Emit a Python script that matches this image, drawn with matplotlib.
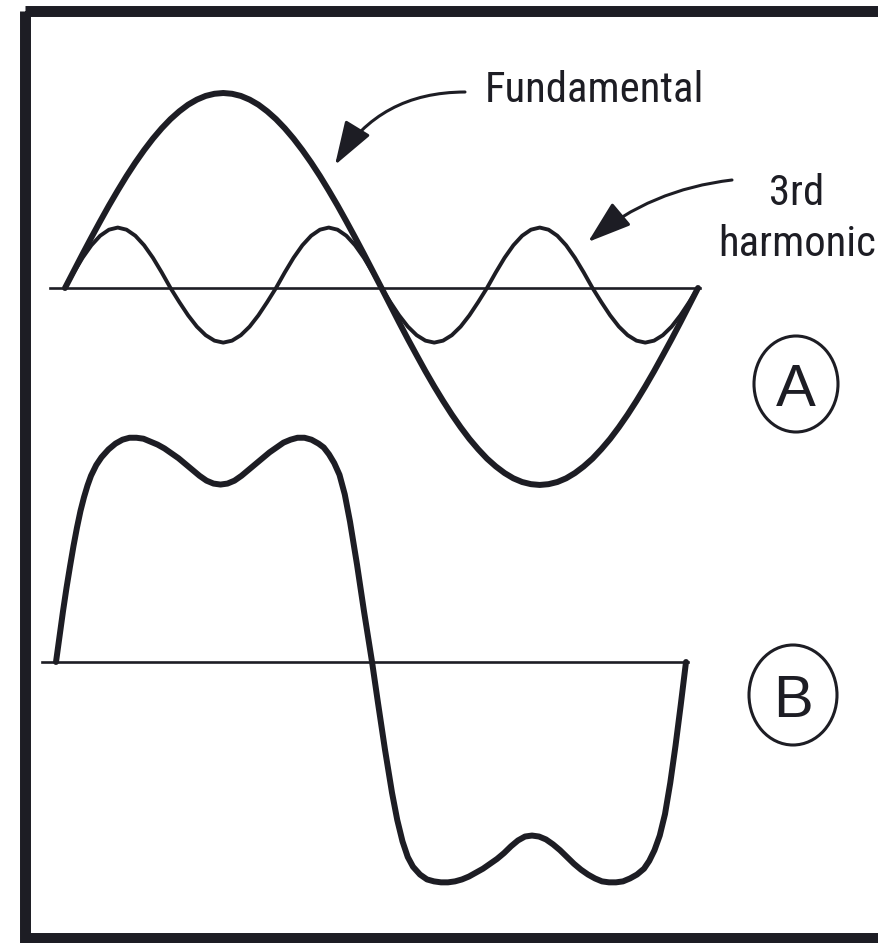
import numpy as np
import matplotlib
matplotlib.use('Agg')
import matplotlib.pyplot as plt
from matplotlib.patches import Ellipse, Rectangle
from matplotlib import font_manager

# --- Data (x in degrees of the fundamental, y in fundamental amplitudes) ---
deg_a = np.arange(0, 361, 5)

fundamental = [
    0, .087, .174, .259, .342, .423, .500, .574, .643, .707, .766, .819, .866, .906, .940, .966, .985, .996, 1.0,
    .996, .985, .966, .940, .906, .866, .819, .766, .707, .643, .574, .500, .423, .342, .259, .174, .087, 0,
    -.088, -.176, -.262, -.345, -.427, -.505, -.579, -.649, -.714, -.774, -.827, -.875, -.915, -.949, -.976, -.995, -1.006, -1.01,
    -1.006, -.995, -.976, -.949, -.915, -.875, -.827, -.774, -.714, -.649, -.579, -.505, -.427, -.345, -.262, -.176, -.088, 0,
]

third_harmonic = [
    0, .080, .155, .219, .268, .299, .31, .299, .268, .219, .155, .080, 0,
    -.072, -.14, -.198, -.242, -.27, -.28, -.27, -.242, -.198, -.14, -.072, 0,
    .080, .155, .219, .268, .299, .31, .299, .268, .219, .155, .080, 0,
    -.072, -.14, -.198, -.242, -.27, -.28, -.27, -.242, -.198, -.14, -.072, 0,
    .080, .155, .219, .268, .299, .31, .299, .268, .219, .155, .080, 0,
    -.072, -.14, -.198, -.242, -.27, -.28, -.27, -.242, -.198, -.14, -.072, 0,
]

deg_b = [0, 2, 4, 6, 8, 10, 12, 14, 16, 18, 20, 23, 26, 30, 34, 38, 42, 46, 50, 54, 58,
         62, 66, 70, 74, 78, 82, 86, 90, 94, 98, 102, 106, 110, 114, 118, 122, 126, 130,
         134, 138, 142, 146, 150, 153, 156, 159, 162, 165, 168, 172, 176, 180.6,
         184, 188, 192, 195, 198, 201, 204, 208, 212, 216, 220, 224, 228, 232, 236, 240,
         244, 248, 252, 256, 260, 264, 268, 272, 276, 280, 284, 288, 292, 296, 300, 304,
         308, 312, 316, 320, 324, 328, 332, 336, 339, 342, 345, 348, 351, 354, 357, 360]
resultant = [0, .13, .26, .38, .49, .595, .69, .775, .845, .905, .955, 1.01, 1.05, 1.09, 1.12, 1.14,
             1.15, 1.15, 1.145, 1.13, 1.115, 1.095, 1.07, 1.045, 1.015, .985, .955, .93, .915,
             .91, .915, .93, .955, .985, 1.015, 1.045, 1.075, 1.10, 1.125, 1.14, 1.15, 1.15,
             1.14, 1.12, 1.10, 1.065, 1.02, .96, .86, .72, .50, .26, 0,
             -.21, -.45, -.67, -.81, -.92, -1.00, -1.05, -1.09, -1.115, -1.125, -1.13, -1.13,
             -1.125, -1.115, -1.10, -1.08, -1.06, -1.035, -1.01, -.98, -.945, -.915, -.895,
             -.89, -.895, -.91, -.935, -.965, -1.00, -1.035, -1.065, -1.09, -1.11, -1.125,
             -1.13, -1.13, -1.125, -1.11, -1.09, -1.06, -1.02, -.965, -.89, -.78, -.62, -.43,
             -.22, 0]

# --- Layout (image pixels) ---
W, H = 879, 943
INK = '#1d1d24'

names = {f.name for f in font_manager.fontManager.ttflist}
LABEL_FONT = 'Liberation Sans'
for cand in ['Liberation Sans Narrow', 'Roboto Condensed', 'Open Sans Condensed']:
    if cand in names:
        LABEL_FONT = cand
        break

fig = plt.figure(figsize=(W / 100, H / 100), dpi=100)

deco = fig.add_axes([0, 0, 1, 1])
deco.set_xlim(0, W)
deco.set_ylim(H, 0)
deco.axis('off')


def wave_axes(x0_px, x360_px, base_px, unit_px):
    """Full-figure axes where 0..360 deg maps onto the given pixel span."""
    ax = fig.add_axes([0, 0, 1, 1])
    ppd = (x360_px - x0_px) / 360
    ax.set_xlim(-x0_px / ppd, (W - x0_px) / ppd)
    ax.set_ylim(-(H - base_px) / unit_px, base_px / unit_px)
    ax.axis('off')
    return ax


# frame (right side runs off the page)
deco.add_patch(Rectangle((25, 10.5), 900, 927, fill=False, lw=7.9,
                         edgecolor=INK, joinstyle='miter'))

line_kw = dict(color=INK, solid_joinstyle='round', solid_capstyle='round')

# --- Panel A ---
ax_a = wave_axes(65, 698, 288, 195)
ax_a.plot([-8.5, 361], [0, 0], color=INK, lw=1.9, zorder=1)
ax_a.plot(deg_a, third_harmonic, lw=2.8, zorder=2, **line_kw)
ax_a.plot(deg_a, fundamental, lw=4.3, zorder=3, **line_kw)

# --- Panel B ---
ax_b = wave_axes(56, 686, 662, 195)
ax_b.plot([-8, 361], [0, 0], color=INK, lw=1.9, zorder=1)
ax_b.plot(deg_b, resultant, lw=4.3, zorder=3, **line_kw)

# --- Labels and arrows ---
t_fund = deco.text(485, 102, 'Fundamental', family=LABEL_FONT, fontsize=30,
                   color=INK, ha='left', va='baseline')
# fit the label width to the reference (about 220 px)
renderer = fig.canvas.get_renderer()
label_size = 30 * 220 / t_fund.get_window_extent(renderer).width
t_fund.set_fontsize(label_size)

deco.text(797, 205, '3rd', family=LABEL_FONT, fontsize=label_size,
          color=INK, ha='center', va='baseline')
deco.text(797, 256, 'harmonic', family=LABEL_FONT, fontsize=label_size,
          color=INK, ha='center', va='baseline')

arrow_kw = dict(arrowstyle='-|>,head_length=1.35,head_width=0.45', lw=2.2,
                color=INK, mutation_scale=20, shrinkA=0, shrinkB=0)
deco.annotate('', xy=(335, 165), xytext=(465, 92),
              arrowprops=dict(connectionstyle='arc3,rad=0.28', **arrow_kw))
deco.annotate('', xy=(588, 242), xytext=(732, 180),
              arrowprops=dict(connectionstyle='arc3,rad=0.15', **arrow_kw))

for letter, cx, cy, ew, eh in [('A', 796, 384, 84, 96), ('B', 793, 695, 88, 100)]:
    deco.add_patch(Ellipse((cx, cy), ew, eh, fill=False, lw=2.2, edgecolor=INK))
    deco.text(cx, cy + 22, letter, family='Liberation Sans', fontsize=43,
              color=INK, ha='center', va='baseline')

fig.savefig('out.png', dpi=100, facecolor='white')
